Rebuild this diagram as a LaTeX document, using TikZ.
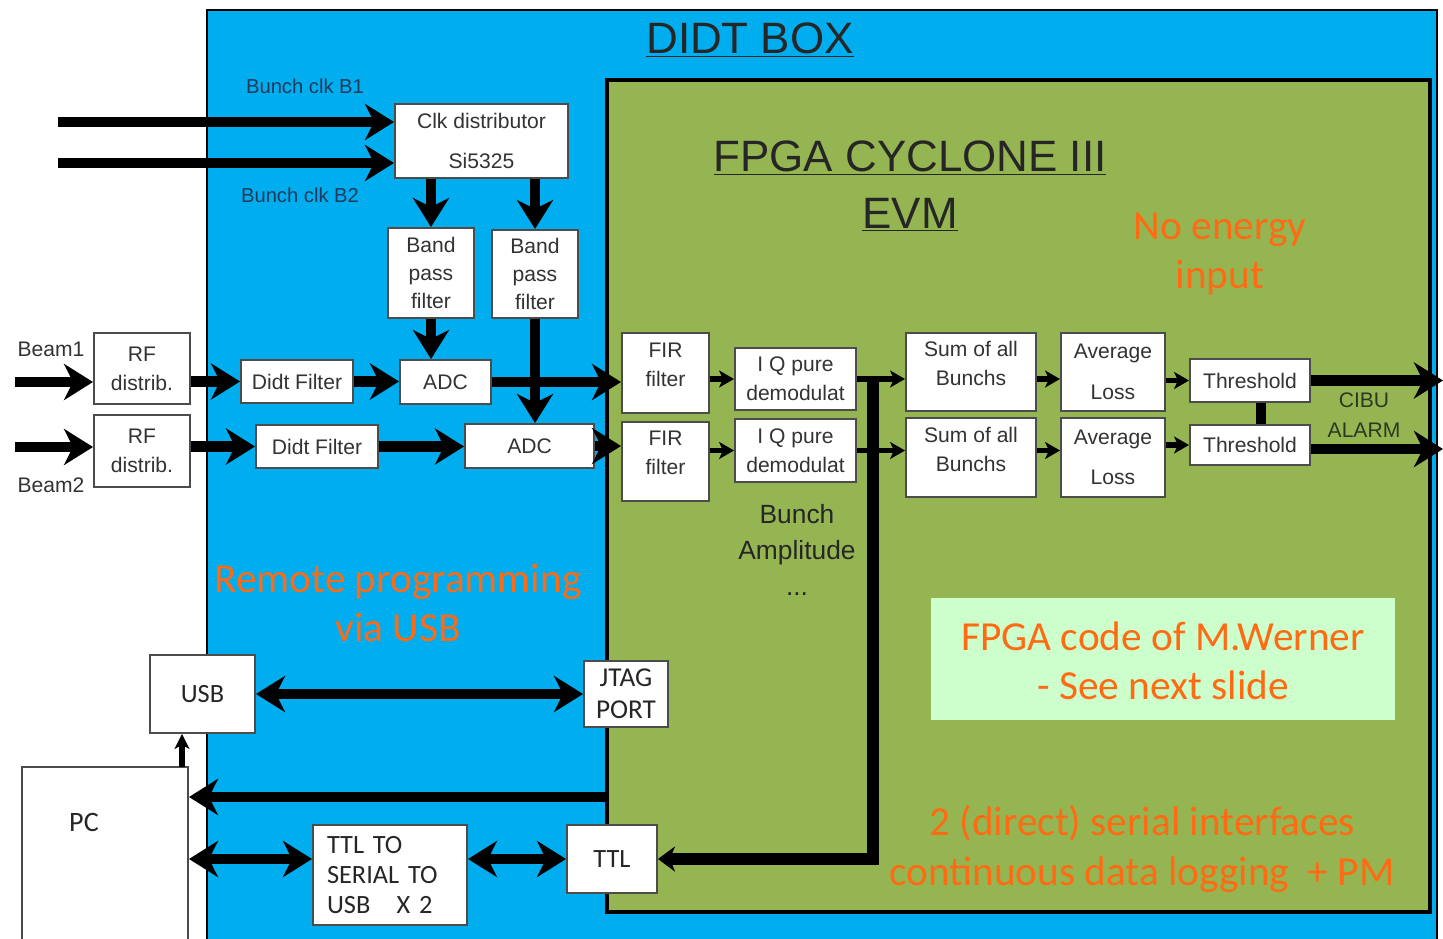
\documentclass[tikz,border=0pt]{standalone}
\usepackage{fontspec}
\setmainfont{Liberation Sans}
\newfontfamily\calfont{Carlito}
\usepackage{tikz}
\usetikzlibrary{arrows.meta}
\definecolor{didtblue}{HTML}{00AEEF}
\definecolor{fpgagreen}{HTML}{95B552}
\definecolor{notegreen}{HTML}{CCFFCC}
\definecolor{orng}{HTML}{FF6A13}
\definecolor{boxtext}{HTML}{333333}
\definecolor{navy}{HTML}{203A5C}
\definecolor{alarmtext}{HTML}{2B3A1E}

\tikzset{
  blk/.style={draw=black!70, line width=1.1pt, fill=white, align=center, inner sep=0pt,
    text=boxtext, font=\fontsize{12}{16.5}\selectfont},
  sz/.style 2 args={minimum width=#1*0.02cm, minimum height=#2*0.02cm},
  raised/.style={text depth=0.34cm},
  calbox/.style={font=\calfont\fontsize{15}{17}\selectfont, text=black!85},
  arr/.style={line width=6pt, -{Stealth[length=0.58cm,width=0.72cm,inset=0.18cm]}},
  darr/.style={line width=6pt, {Stealth[length=0.58cm,width=0.72cm,inset=0.18cm]}-{Stealth[length=0.58cm,width=0.72cm,inset=0.18cm]}},
  sarr/.style={line width=3.2pt, -{Stealth[length=0.3cm,width=0.34cm,inset=0.08cm]}},
  note/.style={text=orng, font=\calfont\fontsize{23.5}{26}\selectfont, align=center},
  title/.style={font=\fontsize{25}{28}\selectfont, text=black!85},
}

\begin{document}
\begin{tikzpicture}[x=0.02cm, y=-0.02cm]
  \useasboundingbox (0,0) rectangle (1443,939);
  \clip (0,0) rectangle (1443,939);

  % Background areas
  \filldraw[fill=didtblue, draw=black, line width=1.2pt] (207,10) rectangle (1437,960);
  \filldraw[fill=fpgagreen, draw=black, line width=2.6pt] (607,80) rectangle (1430,912);
  \fill[notegreen] (931,598) rectangle (1395,720);

  % Titles and notes
  \node[title] (didt) at (750,40) {\underline{DIDT BOX}};
  \node[title] (fpga) at (910,158) {\underline{FPGA CYCLONE III}};
  \node[title] (evm) at (910,215) {\underline{EVM}};
  \node[note] (noen) at (1220,254) {No energy\\[2pt]input};
  \node[note] (remote) at (398,603) {Remote programming\\[2pt]via USB};
  \node[note] (code) at (1163,661) {FPGA code of M.Werner\\[2pt]- See next slide};
  \node[note] (serial) at (1142,849) {2 (direct) serial interfaces\\[2pt]continuous data logging\ \ + PM};

  % Clock part
  \node[blk, sz={173}{74}, font=\fontsize{12}{23}\selectfont] (clk) at (481.5,141) {Clk distributor\\Si5325};
  \node[blk, sz={86}{90}, font=\fontsize{12}{16}\selectfont] (bpf1) at (431,273) {Band\\pass\\filter};
  \node[blk, sz={86}{88}, font=\fontsize{12}{16}\selectfont] (bpf2) at (535,274) {Band\\pass\\filter};
  \node[text=navy, font=\fontsize{11.5}{13}\selectfont] (b1lbl) at (305,86) {Bunch clk B1};
  \node[text=navy, font=\fontsize{11.5}{13}\selectfont] (b2lbl) at (300,195) {Bunch clk B2};
  \coordinate (clkin1) at (58,122);
  \coordinate (clkin2) at (58,163);

  % Beam inputs
  \node[blk, sz={96}{71}] (rf1) at (142,368.5) {RF\\distrib.};
  \node[blk, sz={96}{72}] (rf2) at (142,451) {RF\\distrib.};
  \node[text=boxtext, font=\fontsize{12}{14}\selectfont] (beam1) at (51,349) {Beam1};
  \node[text=boxtext, font=\fontsize{12}{14}\selectfont] (beam2) at (51,485) {Beam2};
  \coordinate (bin1) at (15,382);
  \coordinate (bin2) at (15,447);
  \node[blk, sz={112}{43}] (dflt1) at (297,381.5) {Didt Filter};
  \node[blk, sz={122}{43}] (dflt2) at (317,446.5) {Didt Filter};
  \node[blk, sz={91}{44}] (adc1) at (445.5,382) {ADC};
  \node[blk, sz={129}{44}] (adc2) at (529.5,446) {ADC};

  % FPGA chain
  \node[blk, sz={87}{80}, raised] (fir1) at (665.5,373) {FIR\\filter};
  \node[blk, sz={87}{79}, raised] (fir2) at (665.5,461.5) {FIR\\filter};
  \node[blk, sz={121}{62}] (iq1) at (795.5,379) {I Q pure\\demodulat};
  \node[blk, sz={121}{63}] (iq2) at (795.5,450.5) {I Q pure\\demodulat};
  \node[blk, sz={130}{78}, raised] (sum1) at (971,372) {Sum of all\\Bunchs};
  \node[blk, sz={130}{79}, raised] (sum2) at (971,457.5) {Sum of all\\Bunchs};
  \node[blk, sz={104}{78}, font=\fontsize{12}{23}\selectfont] (avg1) at (1113,372) {Average\\Loss};
  \node[blk, sz={104}{79}, font=\fontsize{12}{23}\selectfont] (avg2) at (1113,457.5) {Average\\Loss};
  \node[blk, sz={120}{43}] (thr1) at (1250,380.5) {Threshold};
  \node[blk, sz={120}{40}] (thr2) at (1250,445) {Threshold};
  \node[text=alarmtext, font=\fontsize{12}{17}\selectfont, align=center] (cibu) at (1364,415) {CIBU\\ALARM};
  \node[text=black!85, font=\fontsize{15}{20.5}\selectfont, align=center] (ampl) at (797,550) {Bunch\\Amplitude\\...};
  \coordinate (rgt) at (1443,0);
  \coordinate (busx) at (873,380);

  % PC and interfaces
  \node[blk, sz={105}{78}, calbox] (usb) at (202.5,694) {USB};
  \node[blk, sz={84}{66}, calbox, font=\calfont\fontsize{15.5}{18}\selectfont] (jtag) at (626,694) {JTAG\\PORT};
  \node[blk, sz={166}{193}] (pc) at (105,863.5) {};
  \node[calbox, font=\calfont\fontsize{16}{18}\selectfont] (pclbl) at (84,822) {PC};
  \node[blk, sz={154}{100}, calbox, align=left, text width=2.52cm, inner xsep=0.28cm] (ttls) at (390,875)
    {TTL TO\\SERIAL TO\\USB\ \ \ X 2};
  \node[blk, sz={90}{68}, calbox] (ttl) at (612,859) {TTL};
  \coordinate (pcu) at (182,767);
  \coordinate (fback) at (607,797);

  % Connectors
  \draw[arr] (clkin1) -- (clkin1 -| clk.west);
  \draw[arr] (clkin2) -- (clkin2 -| clk.west);
  \draw[arr] (clk.south -| bpf1) -- (bpf1.north);
  \draw[arr] (clk.south -| bpf2) -- (bpf2.north);
  \draw[arr] (bin1) -- (bin1 -| rf1.west);
  \draw[arr] (bin2) -- (bin2 -| rf2.west);
  \draw[arr] (dflt1.west -| rf1.east) -- (dflt1.west);
  \draw[arr] (dflt2.west -| rf2.east) -- (dflt2.west);
  \draw[arr] (dflt1.east) -- (dflt1.east -| adc1.west);
  \draw[arr] (dflt2.east) -- (dflt2.east -| adc2.west);
  \draw[arr] (bpf1.south) -- (bpf1.south |- adc1.north);
  \draw[arr] (adc1.east) -- (adc1.east -| fir1.west);
  \draw[arr] (bpf2.south) -- (bpf2.south |- adc2.north);
  \draw[arr] (adc2.east) -- (adc2.east -| fir2.west);
  \draw[sarr] (iq1.west -| fir1.east) -- (iq1.west);
  \draw[sarr] (iq2.west -| fir2.east) -- (iq2.west);
  \draw[sarr] (iq1.east) -- (iq1.east -| sum1.west);
  \draw[sarr] (iq2.east) -- (iq2.east -| sum2.west);
  \draw[sarr] (sum1.east |- iq1.east) -- (avg1.west |- iq1.east);
  \draw[sarr] (sum2.east |- iq2.east) -- (avg2.west |- iq2.east);
  \draw[sarr] (thr1.west -| avg1.east) -- (thr1.west);
  \draw[sarr] (thr2.west -| avg2.east) -- (thr2.west);
  \draw[line width=5.5pt] ([xshift=0.22cm]thr1.south) -- ([xshift=0.22cm]thr2.north);
  \draw[arr] (thr1.east) -- (thr1.east -| rgt);
  \draw[arr] ([yshift=-0.08cm]thr2.east) -- ([yshift=-0.08cm]thr2.east -| rgt);
  \draw[line width=6.5pt, -{Stealth[length=0.34cm,width=0.5cm,inset=0.1cm]}]
    (busx) -- (busx |- ttl.east) -- (ttl.east);
  \draw[darr] (usb.east) -- (jtag.west);
  \draw[line width=3pt, -{Stealth[length=0.3cm,width=0.3cm,inset=0.08cm]}] (pcu) -- (pcu |- usb.south);
  \draw[arr] (fback) -- (fback -| pc.east);
  \draw[darr] (ttl -| pc.east) -- (ttl -| ttls.west);
  \draw[darr] (ttl -| ttls.east) -- (ttl.west);
\end{tikzpicture}
\end{document}
